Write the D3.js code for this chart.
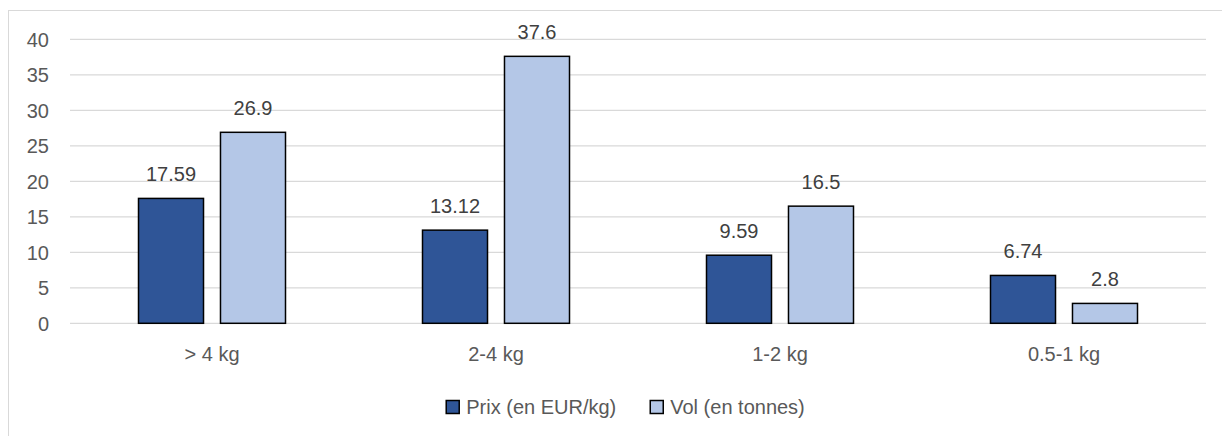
<!DOCTYPE html>
<html>
<head>
<meta charset="utf-8">
<script src="https://cdn.jsdelivr.net/npm/d3@7"></script>
<style>
  html, body { margin: 0; padding: 0; background: #fff; }
  svg { display: block; font-family: "Liberation Sans", Arial, sans-serif; }
</style>
</head>
<body>
<svg id="chart" width="1222" height="436"></svg>
<script>
const categories = ["> 4 kg", "2-4 kg", "1-2 kg", "0.5-1 kg"];
const seriesNames = ["Prix (en EUR/kg)", "Vol (en tonnes)"];
const prix = [17.59, 13.12, 9.59, 6.74];
const vol = [26.9, 37.6, 16.5, 2.8];
const yTicks = [0, 5, 10, 15, 20, 25, 30, 35, 40];
const seriesColors = ["#2F5597", "#B4C7E7"];
const seriesValues = [prix, vol];

const svg = d3.select("#chart");
const W = 1222, H = 436;
const FS = "20px";

// outer chart border
svg.append("rect")
  .attr("x", 8.5).attr("y", 10.5)
  .attr("width", W + 10).attr("height", H + 10)
  .attr("fill", "#fff").attr("stroke", "#D9D9D9").attr("stroke-width", 1);

const plotLeft = 70, plotRight = 1206, plotTop = 39.3, plotBottom = 323.3;

const y = d3.scaleLinear().domain([0, 40]).range([plotBottom, plotTop]);
const x0 = d3.scaleBand().domain(categories).range([plotLeft, plotRight]).padding(0);
const groupW = 147;
const x1 = d3.scaleBand().domain(seriesNames)
  .range([x0.bandwidth() / 2 - groupW / 2, x0.bandwidth() / 2 + groupW / 2])
  .paddingInner(0.207).paddingOuter(0);

// gridlines
svg.append("g").selectAll("line").data(yTicks).join("line")
  .attr("x1", plotLeft).attr("x2", plotRight)
  .attr("y1", d => y(d)).attr("y2", d => y(d))
  .attr("stroke", "#D9D9D9").attr("stroke-width", 1.3);

// y axis labels
const yAxis = d3.axisLeft(y).tickValues(yTicks).tickSize(0).tickPadding(0);
const yg = svg.append("g").attr("transform", `translate(${plotLeft - 21},0)`).call(yAxis);
yg.select(".domain").remove();
yg.selectAll("text").attr("fill", "#595959").style("font-size", FS)
  .style("font-family", "'Liberation Sans', Arial, sans-serif").attr("dy", "0.35em");

// x axis labels
const xAxis = d3.axisBottom(x0).tickSize(0).tickPadding(0);
const xg = svg.append("g").attr("transform", `translate(0,${plotBottom + 38})`).call(xAxis);
xg.select(".domain").remove();
xg.selectAll("text").attr("fill", "#595959").style("font-size", FS)
  .style("font-family", "'Liberation Sans', Arial, sans-serif").attr("dy", "0");

// bars
const rows = categories.map((c, i) => ({
  cat: c,
  vals: seriesNames.map((s, j) => ({ s, j, v: seriesValues[j][i] }))
}));

const groups = svg.append("g").selectAll("g").data(rows).join("g")
  .attr("transform", d => `translate(${x0(d.cat)},0)`);

groups.selectAll("rect").data(d => d.vals).join("rect")
  .attr("x", d => x1(d.s))
  .attr("width", x1.bandwidth())
  .attr("y", d => y(d.v))
  .attr("height", d => y(0) - y(d.v))
  .attr("fill", d => seriesColors[d.j])
  .attr("stroke", "#000").attr("stroke-width", 1.5);

groups.selectAll("text").data(d => d.vals).join("text")
  .attr("x", d => x1(d.s) + x1.bandwidth() / 2)
  .attr("y", d => y(d.v) - 17)
  .attr("text-anchor", "middle")
  .attr("fill", "#404040").style("font-size", FS)
  .text(d => String(d.v));

// legend
const legend = svg.append("g");
const items = legend.selectAll("g").data(seriesNames).join("g");
items.append("rect")
  .attr("width", 13).attr("height", 13)
  .attr("y", -6.5)
  .attr("fill", (d, i) => seriesColors[i])
  .attr("stroke", "#000").attr("stroke-width", 1.5);
items.append("text")
  .attr("x", 20).attr("y", 0).attr("dy", "0.35em")
  .attr("fill", "#595959").style("font-size", FS)
  .text(d => d);
const widths = [];
items.each(function () {
  const w = 20 + d3.select(this).select("text").node().getComputedTextLength();
  widths.push(w);
});
const gap = 34;
const total = d3.sum(widths) + gap * (widths.length - 1);
let startX = 625.5 - total / 2;
items.attr("transform", (d, i) => {
  const tx = startX;
  startX += widths[i] + gap;
  return `translate(${tx},407)`;
});
</script>
</body>
</html>
